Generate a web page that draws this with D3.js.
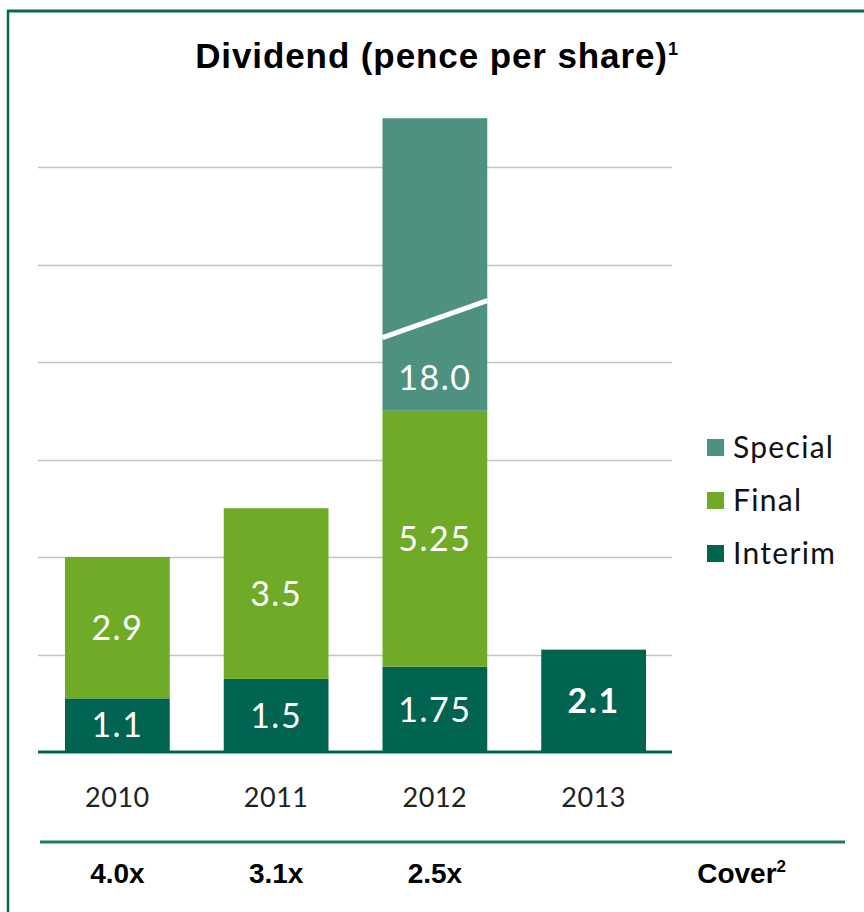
<!DOCTYPE html>
<html>
<head>
<meta charset="utf-8">
<script src="https://cdn.jsdelivr.net/npm/d3@7"></script>
<style>
  body { margin: 0; background: #fff; }
  svg { display: block; }
  .lbl { font-family: Lato, "Open Sans", sans-serif; }
</style>
</head>
<body>
<div id="chart"></div>
<script>
// data
var years = ["2010", "2011", "2012", "2013"];
var interim = [1.1, 1.5, 1.75, 2.1];
var finals = [2.9, 3.5, 5.25, 0];
var special = [0, 0, 18.0, 0];
var cover = ["4.0x", "3.1x", "2.5x", ""];
var seriesNames = ["Special", "Final", "Interim"];
var yTicks = [0, 2, 4, 6, 8, 10, 12];
var axisCap = 13; // special bar is cut off at this value (broken bar)

var colors = { Interim: "#006450", Final: "#6fab26", Special: "#4e9181" };

var W = 864, H = 912;
var svg = d3.select("#chart").append("svg")
    .attr("width", W).attr("height", H);

// frame
svg.append("line").attr("x1", 7).attr("x2", W).attr("y1", 11).attr("y2", 11)
    .attr("stroke", "#0b6650").attr("stroke-width", 3);
svg.append("line").attr("x1", 8).attr("x2", 8).attr("y1", 10).attr("y2", H)
    .attr("stroke", "#0b6650").attr("stroke-width", 2.5);

// title
var title = svg.append("text")
    .attr("x", 437).attr("y", 68)
    .attr("text-anchor", "middle")
    .style("font-family", "'Liberation Sans', sans-serif")
    .style("font-weight", "bold")
    .style("font-size", "35px")
    .style("letter-spacing", "0.9px")
    .attr("fill", "#000");
title.append("tspan").text("Dividend (pence per share)");
title.append("tspan").attr("dy", -13).style("font-size", "18px").text("1");

// scales
var x = d3.scaleBand().domain(years).range([38, 673]).paddingInner(0.34).paddingOuter(0.17);
var y = d3.scaleLinear().domain([0, 12]).range([752, 167]);

// gridlines
svg.append("g").selectAll("line").data(yTicks.slice(1)).enter().append("line")
    .attr("x1", 38).attr("x2", 672)
    .attr("y1", function(d) { return Math.round(y(d)) + 0.5; })
    .attr("y2", function(d) { return Math.round(y(d)) + 0.5; })
    .attr("stroke", "#c4c4c4").attr("stroke-width", 1.5);

// stacked rows
var rows = years.map(function(yr, i) {
  return { year: yr, Interim: interim[i], Final: finals[i], Special: Math.min(special[i], axisCap - interim[i] - finals[i]), realSpecial: special[i] };
});
var stack = d3.stack().keys(["Interim", "Final", "Special"])(rows);

var layers = svg.append("g").selectAll("g").data(stack).enter().append("g")
    .attr("fill", function(d) { return colors[d.key]; });

layers.selectAll("rect").data(function(d) { return d; }).enter().append("rect")
    .filter(function(d) { return d[1] - d[0] > 0; })
    .attr("x", function(d) { return x(d.data.year); })
    .attr("width", x.bandwidth())
    .attr("y", function(d) { return y(d[1]); })
    .attr("height", function(d) { return y(d[0]) - y(d[1]); });

// break mark on the special bar
rows.forEach(function(r) {
  if (r.realSpecial > r.Special) {
    var x0 = x(r.year), x1 = x0 + x.bandwidth();
    svg.append("line")
      .attr("x1", x0).attr("x2", x1)
      .attr("y1", y(8.5)).attr("y2", y(8.5) - 37)
      .attr("stroke", "#fff").attr("stroke-width", 5);
  }
});

// baseline
svg.append("line").attr("x1", 38).attr("x2", 672).attr("y1", y(0)).attr("y2", y(0))
    .attr("stroke", "#006450").attr("stroke-width", 3);

// value labels
var labelG = svg.append("g").attr("class", "lbl");
stack.forEach(function(layer) {
  layer.forEach(function(d, i) {
    if (d[1] - d[0] <= 0) return;
    var val = layer.key === "Special" ? special[i] : (layer.key === "Final" ? finals[i] : interim[i]);
    var cy = layer.key === "Special" ? y(d[0]) - 33 : (y(d[0]) + y(d[1])) / 2;
    var txt = layer.key === "Special" ? val.toFixed(1) : String(val);
    var isLast = years[i] === "2013";
    labelG.append("text")
      .attr("x", x(d.data.year) + x.bandwidth() / 2)
      .attr("y", cy)
      .attr("dy", "0.36em")
      .attr("text-anchor", "middle")
      .attr("fill", "#fff")
      .style("font-size", "34px")
      .style("letter-spacing", "1.5px")
      .style("font-weight", isLast ? "bold" : "normal")
      .text(txt);
  });
});

// x axis labels
var xAxis = d3.axisBottom(x).tickSize(0).tickPadding(0);
var xg = svg.append("g").attr("transform", "translate(0,797)").call(xAxis);
xg.select(".domain").remove();
xg.selectAll("text")
    .attr("dy", "0.36em")
    .attr("class", "lbl")
    .style("font-size", "27px")
    .style("letter-spacing", "0.5px")
    .attr("fill", "#222");

// separator
svg.append("line").attr("x1", 40).attr("x2", 845).attr("y1", 842).attr("y2", 842)
    .attr("stroke", "#1f7a66").attr("stroke-width", 3);

// cover row
svg.append("g").selectAll("text").data(years).enter().append("text")
    .attr("x", function(d) { return x(d) + x.bandwidth() / 2; })
    .attr("y", 873).attr("dy", "0.36em")
    .attr("text-anchor", "middle")
    .style("font-family", "'Liberation Sans', sans-serif")
    .style("font-weight", "bold").style("font-size", "28px")
    .text(function(d, i) { return cover[i]; });
var cv = svg.append("text").attr("x", 786).attr("y", 873).attr("dy", "0.36em")
    .attr("text-anchor", "end")
    .style("font-family", "'Liberation Sans', sans-serif")
    .style("font-weight", "bold").style("font-size", "28px");
cv.append("tspan").text("Cover");
cv.append("tspan").attr("dy", -11).style("font-size", "17px").text("2");

// legend
var legend = svg.append("g").attr("class", "lbl").selectAll("g").data(seriesNames).enter().append("g")
    .attr("transform", function(d, i) { return "translate(707," + (447 + i * 53) + ")"; });
legend.append("rect").attr("x", 0).attr("y", -8).attr("width", 17).attr("height", 17)
    .attr("fill", function(d) { return colors[d]; });
legend.append("text").attr("x", 26).attr("y", 0).attr("dy", "0.36em")
    .style("font-size", "30px").style("letter-spacing", "1.3px").attr("fill", "#111")
    .text(function(d) { return d; });
</script>
</body>
</html>
